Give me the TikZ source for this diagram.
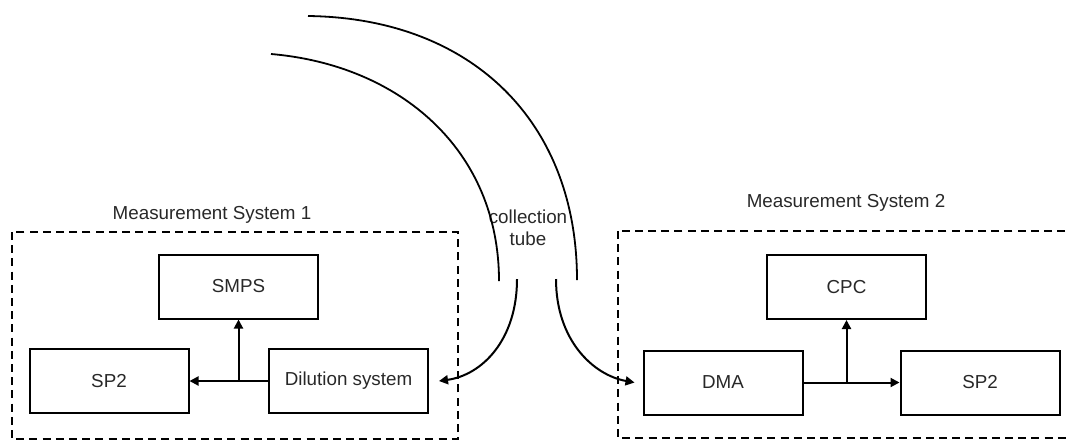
\documentclass[tikz,border=0pt]{standalone}
\usepackage{fontspec}
\setmainfont{Liberation Sans}
\usetikzlibrary{arrows.meta}
\definecolor{textgray}{RGB}{40,40,40}
\tikzset{
  block/.style={draw, line width=1pt, minimum width=79.5pt, minimum height=32pt, inner sep=0pt},
  sysbox/.style={draw, line width=1pt, dash pattern=on 4pt off 2.6pt},
  flow/.style={line width=1pt, -{Triangle[length=4.5pt,width=4.5pt]}},
  tube/.style={line width=0.9pt},
}
\begin{document}
\begin{tikzpicture}[x=0.5pt, y=-0.5pt, font=\fontsize{9.4}{11}\selectfont, text=textgray]
        \useasboundingbox (0,0) rectangle (1068,441);
        % system frames
        \draw[sysbox] (12,232) rectangle (458,439);
        \draw[sysbox] (618,231) rectangle (1090,438);
        \node (title1) at (212,215) {Measurement System 1};
        \node (title2) at (846,203) {Measurement System 2};
        % system 1
        \node[block] (smps) at (238.5,286.5) {SMPS};
        \node[block] (sp2a) at (109,381) {SP2};
        \node[block] (dil) at (348.5,381) {Dilution system};
        \draw[flow] (dil.west) -- (sp2a.east);
        \draw[flow] (smps.south |- dil.west) -- (smps.south);
        % system 2
        \node[block] (cpc) at (846.5,287) {CPC};
        \node[block] (dma) at (723,382.5) {DMA};
        \node[block] (sp2b) at (980,382.5) {SP2};
        \draw[flow] (dma.east) -- (sp2b.west);
        \draw[flow] (cpc.south |- dma.east) -- (cpc.south);
        % collection tube
        \node[align=center] (tube) at (528,228) {collection\\tube};
        \draw[tube] (308,16) .. controls (470,18) and (577,120) .. (577,280);
        \draw[tube] (271,54) .. controls (400,65) and (499,150) .. (499,281);
        \coordinate (tubeL) at (517,279);
        \coordinate (tubeR) at (556,279);
        \draw[flow] (tubeL) .. controls (517,340) and (482,375) .. ([xshift=5pt]dil.east);
        \draw[flow] (tubeR) .. controls (556,340) and (593,375) .. ([xshift=-4pt]dma.west);
    \end{tikzpicture}
\end{document}
